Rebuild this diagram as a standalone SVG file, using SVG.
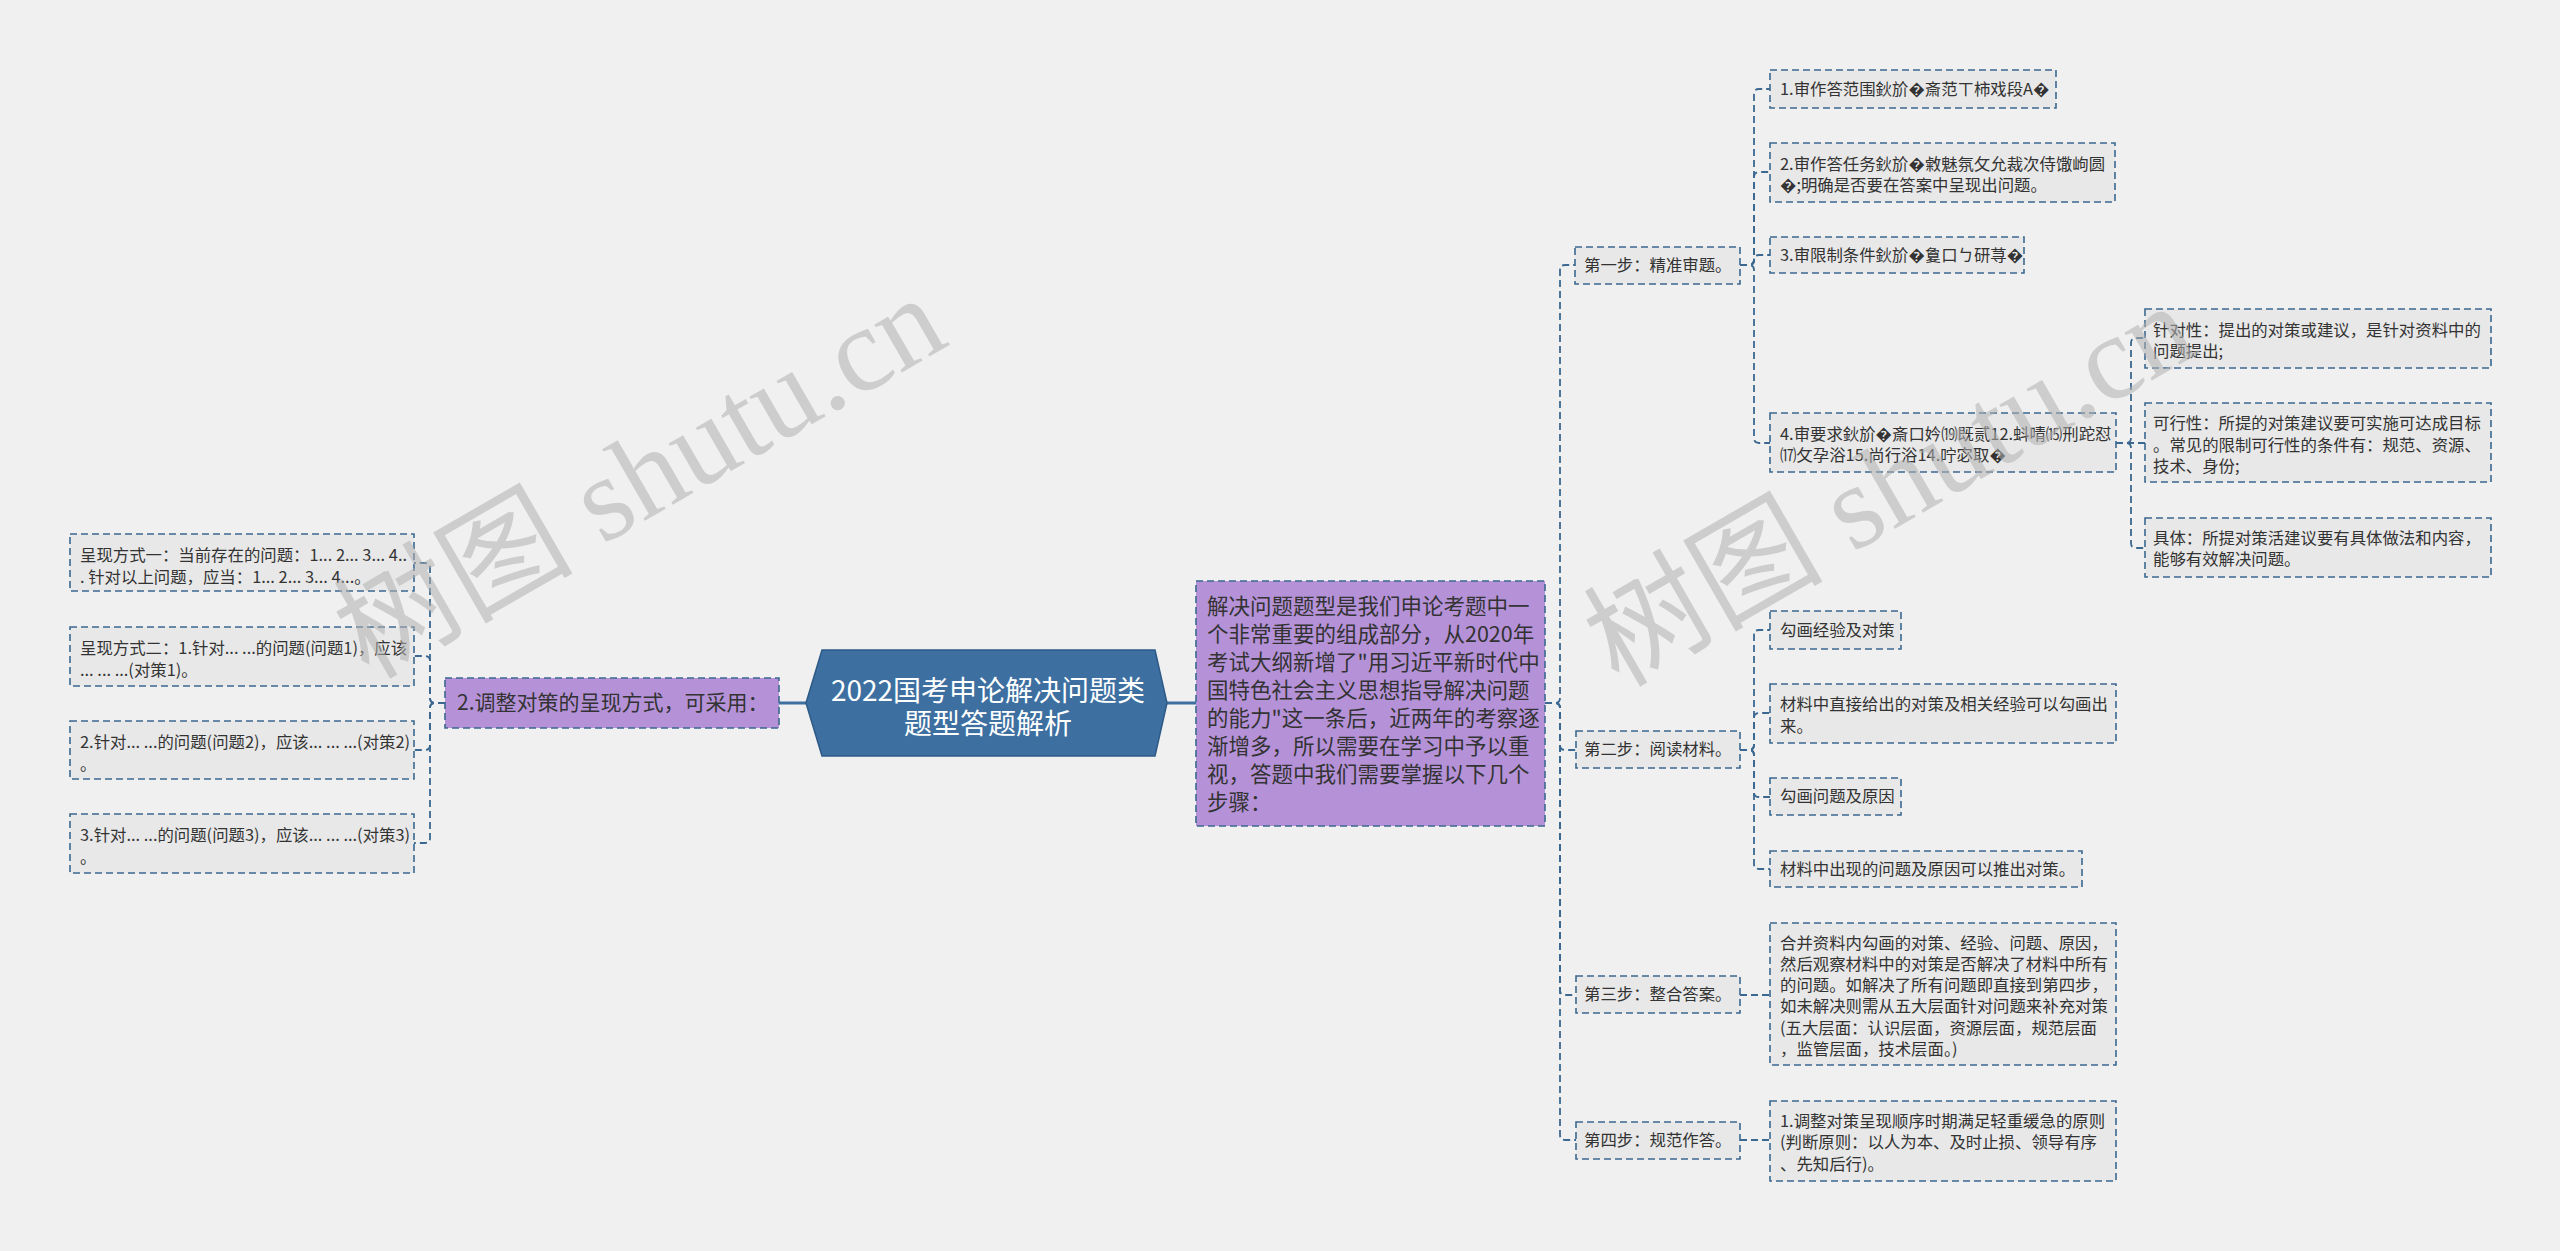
<svg xmlns="http://www.w3.org/2000/svg" width="2560" height="1251" viewBox="0 0 2560 1251">
<style>
.box{fill:#e8e8e8;stroke:#3b6890;stroke-width:1.6;stroke-dasharray:7 4}
.pbox{fill:#b592d8;stroke:#3b6890;stroke-width:1.6;stroke-dasharray:7 4}
.hex{fill:#3d6fa0;stroke:#2d5a86;stroke-width:1.5}
.t{font-family:"Noto Sans CJK SC","Noto Sans",sans-serif;font-size:16.4px;fill:#333}
.tp{font-family:"Noto Sans CJK SC","Noto Sans",sans-serif;font-size:21.5px;fill:#333}
.tn{font-family:"Noto Sans CJK SC","Noto Sans",sans-serif;font-size:21px;fill:#333}
.tt{font-family:"Noto Sans CJK SC","Noto Sans",sans-serif;font-size:28px;fill:#fff;text-anchor:middle}
.link{fill:none;stroke:#3b6890;stroke-width:1.8;stroke-dasharray:7 4}
.solid{fill:none;stroke:#3d6fa0;stroke-width:3}
.wm{font-family:"Liberation Serif","Noto Sans CJK SC",serif;font-size:120px;fill:#b0b0b0;fill-opacity:0.55;text-anchor:middle}
</style>
<rect x="0" y="0" width="2560" height="1251" fill="#f0f0f0"/>

<g id="connectors">
<path class="solid" d="M806 703 H779"/>
<path class="solid" d="M1167 703 H1196"/>
<path class="link" d="M445 703 H435 Q430 703 430 698 V568 Q430 563 425 563 H414"/>
<path class="link" d="M445 703 H435 Q430 703 430 698 V661 Q430 656 425 656 H414"/>
<path class="link" d="M445 703 H435 Q430 703 430 708 V745 Q430 750 425 750 H414"/>
<path class="link" d="M445 703 H435 Q430 703 430 708 V838 Q430 843 425 843 H414"/>
<path class="link" d="M1545 703 H1555 Q1560 703 1560 698 V270 Q1560 265 1565 265 H1575"/>
<path class="link" d="M1545 703 H1555 Q1560 703 1560 708 V745 Q1560 750 1565 750 H1576"/>
<path class="link" d="M1545 703 H1555 Q1560 703 1560 708 V990 Q1560 995 1565 995 H1576"/>
<path class="link" d="M1545 703 H1555 Q1560 703 1560 708 V1135 Q1560 1140 1565 1140 H1576"/>
<path class="link" d="M1740 265 H1749 Q1754 265 1754 260 V94 Q1754 89 1759 89 H1770"/>
<path class="link" d="M1740 265 H1749 Q1754 265 1754 260 V177 Q1754 172 1759 172 H1770"/>
<path class="link" d="M1740 265 H1749 Q1754 265 1754 260 Q1754 255 1759 255 H1770"/>
<path class="link" d="M1740 265 H1749 Q1754 265 1754 270 V438 Q1754 443 1759 443 H1770"/>
<path class="link" d="M2116 443 H2126 Q2131 443 2131 438 V343 Q2131 338 2136 338 H2145"/>
<path class="link" d="M2116 443 H2145"/>
<path class="link" d="M2116 443 H2126 Q2131 443 2131 448 V543 Q2131 548 2136 548 H2145"/>
<path class="link" d="M1740 750 H1749 Q1754 750 1754 745 V635 Q1754 630 1759 630 H1770"/>
<path class="link" d="M1740 750 H1749 Q1754 750 1754 745 V718 Q1754 713 1759 713 H1770"/>
<path class="link" d="M1740 750 H1749 Q1754 750 1754 755 V792 Q1754 797 1759 797 H1770"/>
<path class="link" d="M1740 750 H1749 Q1754 750 1754 755 V864 Q1754 869 1759 869 H1770"/>
<path class="link" d="M1740 995 H1770"/>
<path class="link" d="M1740 1140 H1770"/>
</g>

<g id="root">
<polygon class="hex" points="806,703 822,650 1155,650 1167,703 1155,756 822,756"/>
<text class="tt" x="988" y="701">2022国考申论解决问题类</text>
<text class="tt" x="988" y="734">题型答题解析</text>
</g>

<g id="n-left">
<rect class="pbox" x="445" y="678" width="334" height="50"/>
<text class="tn" x="457" y="710">2.调整对策的呈现方式，可采用：</text>
</g>
<g id="n-l1">
<rect class="box" x="70" y="534" width="344" height="57"/>
<text class="t" x="80" y="561">呈现方式一：当前存在的问题：1... 2... 3... 4..</text>
<text class="t" x="80" y="583">. 针对以上问题，应当：1... 2... 3... 4...。</text>
</g>
<g id="n-l2">
<rect class="box" x="70" y="627" width="344" height="59"/>
<text class="t" x="80" y="654">呈现方式二：1.针对... ...的问题(问题1)，应该</text>
<text class="t" x="80" y="676">... ... ...(对策1)。</text>
</g>
<g id="n-l3">
<rect class="box" x="70" y="721" width="344" height="58"/>
<text class="t" x="80" y="748">2.针对... ...的问题(问题2)，应该... ... ...(对策2)</text>
<text class="t" x="80" y="770">。</text>
</g>
<g id="n-l4">
<rect class="box" x="70" y="814" width="344" height="59"/>
<text class="t" x="80" y="841">3.针对... ...的问题(问题3)，应该... ... ...(对策3)</text>
<text class="t" x="80" y="863">。</text>
</g>

<g id="n-intro">
<rect class="pbox" x="1196" y="581" width="349" height="245"/>
<text class="tp" x="1207" y="614">解决问题题型是我们申论考题中一</text>
<text class="tp" x="1207" y="642">个非常重要的组成部分，从2020年</text>
<text class="tp" x="1207" y="670">考试大纲新增了"用习近平新时代中</text>
<text class="tp" x="1207" y="698">国特色社会主义思想指导解决问题</text>
<text class="tp" x="1207" y="726">的能力"这一条后，近两年的考察逐</text>
<text class="tp" x="1207" y="754">渐增多，所以需要在学习中予以重</text>
<text class="tp" x="1207" y="782">视，答题中我们需要掌握以下几个</text>
<text class="tp" x="1207" y="810">步骤：</text>
</g>

<g id="n-step1">
<rect class="box" x="1575" y="247" width="165" height="37"/>
<text class="t" x="1584" y="271">第一步：精准审题。</text>
</g>
<g id="n-s1a">
<rect class="box" x="1770" y="70" width="286" height="38"/>
<text class="t" x="1780" y="95">1.审作答范围鈥斺�斎范ㄒ柿戏段A�</text>
</g>
<g id="n-s1b">
<rect class="box" x="1770" y="143" width="345" height="59"/>
<text class="t" x="1780" y="170">2.审作答任务鈥斺�敹魅氛攵允裁次侍馓岣圆</text>
<text class="t" x="1780" y="191">�;明确是否要在答案中呈现出问题。</text>
</g>
<g id="n-s1c">
<rect class="box" x="1770" y="237" width="254" height="36"/>
<text class="t" x="1780" y="261">3.审限制条件鈥斺�敻口ㄅ研荨�</text>
</g>
<g id="n-s1d">
<rect class="box" x="1770" y="413" width="346" height="59"/>
<text class="t" x="1780" y="440">4.审要求鈥斺�斎口妗⒆既贰12.蚪啨⒂刑跎怼</text>
<text class="t" x="1780" y="461">⒄攵孕浴15.尚行浴14.咛宓取�</text>
</g>
<g id="n-f1">
<rect class="box" x="2145" y="309" width="346" height="59"/>
<text class="t" x="2153" y="336">针对性：提出的对策或建议，是针对资料中的</text>
<text class="t" x="2153" y="357">问题提出;</text>
</g>
<g id="n-f2">
<rect class="box" x="2145" y="403" width="346" height="79"/>
<text class="t" x="2153" y="429">可行性：所提的对策建议要可实施可达成目标</text>
<text class="t" x="2153" y="451">。常见的限制可行性的条件有：规范、资源、</text>
<text class="t" x="2153" y="472">技术、身份;</text>
</g>
<g id="n-f3">
<rect class="box" x="2145" y="518" width="346" height="59"/>
<text class="t" x="2153" y="544">具体：所提对策活建议要有具体做法和内容，</text>
<text class="t" x="2153" y="565">能够有效解决问题。</text>
</g>

<g id="n-step2">
<rect class="box" x="1576" y="731" width="164" height="37"/>
<text class="t" x="1584" y="755">第二步：阅读材料。</text>
</g>
<g id="n-s2a">
<rect class="box" x="1770" y="611" width="131" height="38"/>
<text class="t" x="1780" y="636">勾画经验及对策</text>
</g>
<g id="n-s2b">
<rect class="box" x="1770" y="684" width="346" height="59"/>
<text class="t" x="1780" y="710">材料中直接给出的对策及相关经验可以勾画出</text>
<text class="t" x="1780" y="732">来。</text>
</g>
<g id="n-s2c">
<rect class="box" x="1770" y="778" width="131" height="37"/>
<text class="t" x="1780" y="802">勾画问题及原因</text>
</g>
<g id="n-s2d">
<rect class="box" x="1770" y="851" width="312" height="36"/>
<text class="t" x="1780" y="875">材料中出现的问题及原因可以推出对策。</text>
</g>

<g id="n-step3">
<rect class="box" x="1576" y="976" width="164" height="37"/>
<text class="t" x="1584" y="1000">第三步：整合答案。</text>
</g>
<g id="n-s3a">
<rect class="box" x="1770" y="923" width="346" height="142"/>
<text class="t" x="1780" y="949">合并资料内勾画的对策、经验、问题、原因，</text>
<text class="t" x="1780" y="970">然后观察材料中的对策是否解决了材料中所有</text>
<text class="t" x="1780" y="991">的问题。如解决了所有问题即直接到第四步，</text>
<text class="t" x="1780" y="1012">如未解决则需从五大层面针对问题来补充对策</text>
<text class="t" x="1780" y="1034">(五大层面：认识层面，资源层面，规范层面</text>
<text class="t" x="1780" y="1055">，监管层面，技术层面。)</text>
</g>

<g id="n-step4">
<rect class="box" x="1576" y="1122" width="164" height="37"/>
<text class="t" x="1584" y="1146">第四步：规范作答。</text>
</g>
<g id="n-s4a">
<rect class="box" x="1770" y="1101" width="346" height="80"/>
<text class="t" x="1780" y="1127">1.调整对策呈现顺序时期满足轻重缓急的原则</text>
<text class="t" x="1780" y="1148">(判断原则：以人为本、及时止损、领导有序</text>
<text class="t" x="1780" y="1170">、先知后行)。</text>
</g>

<g id="watermark">
<text class="wm" transform="translate(660,512) rotate(-30)">树图 shutu.cn</text>
<text class="wm" transform="translate(1910,520) rotate(-30)">树图 shutu.cn</text>
</g>
</svg>
